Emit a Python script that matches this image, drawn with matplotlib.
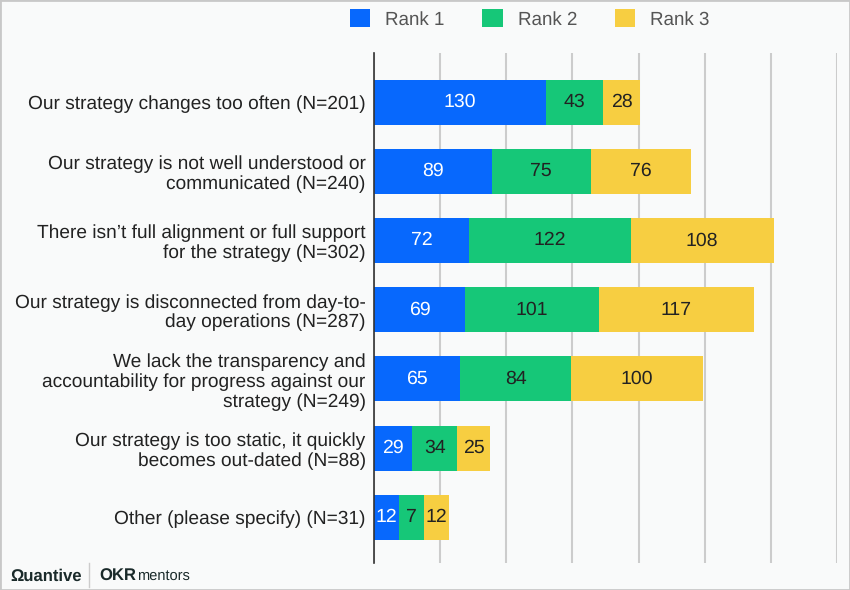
import matplotlib.pyplot as plt
import numpy as np

plt.rcParams['font.family'] = ['Liberation Sans', 'DejaVu Sans']
plt.rcParams['text.hinting'] = 'no_hinting'

categories = [
    'Our strategy changes too often (N=201)',
    'Our strategy is not well understood or\ncommunicated (N=240)',
    'There isn\u2019t full alignment or full support\nfor the strategy (N=302)',
    'Our strategy is disconnected from day-to-\nday operations (N=287)',
    'We lack the transparency and\naccountability for progress against our\nstrategy (N=249)',
    'Our strategy is too static, it quickly\nbecomes out-dated (N=88)',
    'Other (please specify) (N=31)',
]
rank1 = [130, 89, 72, 69, 65, 29, 12]
rank2 = [43, 75, 122, 101, 84, 34, 7]
rank3 = [28, 76, 108, 117, 100, 25, 12]
series_names = ['Rank 1', 'Rank 2', 'Rank 3']
colors = ['#0768FD', '#16C778', '#F7CE41']
text_colors = ['white', '#222222', '#222222']

# like the original tool, very small segments get a minimum width so the label fits
MIN_WIDTH = 19

bg = '#F9FAFA'
fig = plt.figure(figsize=(8.5, 5.9), dpi=100, facecolor=bg)
ax = fig.add_axes([374 / 850, 1 - 563 / 590, (837 - 374) / 850, (563 - 53) / 590])
ax.set_facecolor(bg)

y = np.arange(len(categories))
left = np.zeros(len(categories))
for vals, name, col, tcol in zip([rank1, rank2, rank3], series_names, colors, text_colors):
    widths = np.maximum(np.array(vals), MIN_WIDTH)
    bars = ax.barh(y, widths, left=left, height=0.65, color=col, label=name, zorder=3)
    ax.bar_label(bars, labels=[str(v) for v in vals], label_type='center',
                 color=tcol, fontsize=14)
    left += widths

ax.set_xlim(0, 350)
ax.set_ylim(len(categories) - 0.34, -0.71)
ax.set_xticks(np.arange(0, 351, 50))
ax.set_xticklabels([])
ax.tick_params(axis='x', length=0)
ax.tick_params(axis='y', length=0, pad=6)
ax.set_yticks(y)
ax.set_yticklabels(categories, fontsize=13.8, color='#222222', ha='right',
                   multialignment='right', linespacing=1.15)
ax.grid(axis='x', color='#CCCCCC', linewidth=1.5, zorder=0)
for s in ['top', 'right', 'bottom']:
    ax.spines[s].set_visible(False)
ax.spines['left'].set_color('#333333')
ax.spines['left'].set_linewidth(1.2)
ax.spines['left'].set_zorder(4)

fig.legend(loc='center', bbox_to_anchor=(0.623, 1 - 19 / 590), ncol=3, frameon=False,
           fontsize=13.5, handlelength=1.1, handleheight=1.1, columnspacing=2.0,
           handletextpad=0.8, labelcolor='#555555')

# logos at the bottom left
fig.text(10 / 850, 1 - 576 / 590, '\u03a9uantive', fontsize=12, color='#1a2a2a',
         va='center', ha='left', fontweight='bold')
fig.add_artist(plt.Line2D([89 / 850, 89 / 850], [1 - 587 / 590, 1 - 563 / 590],
                          color='#CCCCCC', linewidth=1))
fig.text(99 / 850, 1 - 576 / 590, 'OKR', fontsize=12, color='#1a2a2a',
         va='center', ha='left', fontweight='bold')
fig.text(137 / 850, 1 - 576 / 590, 'mentors', fontsize=10.5, color='#1a2a2a',
         va='center', ha='left')

# outer border
fig.add_artist(plt.Rectangle((0, 0), 1, 1, transform=fig.transFigure, fill=False,
                             edgecolor='#C8C8C8', linewidth=2))

fig.savefig('out.png', dpi=100, facecolor=bg)
